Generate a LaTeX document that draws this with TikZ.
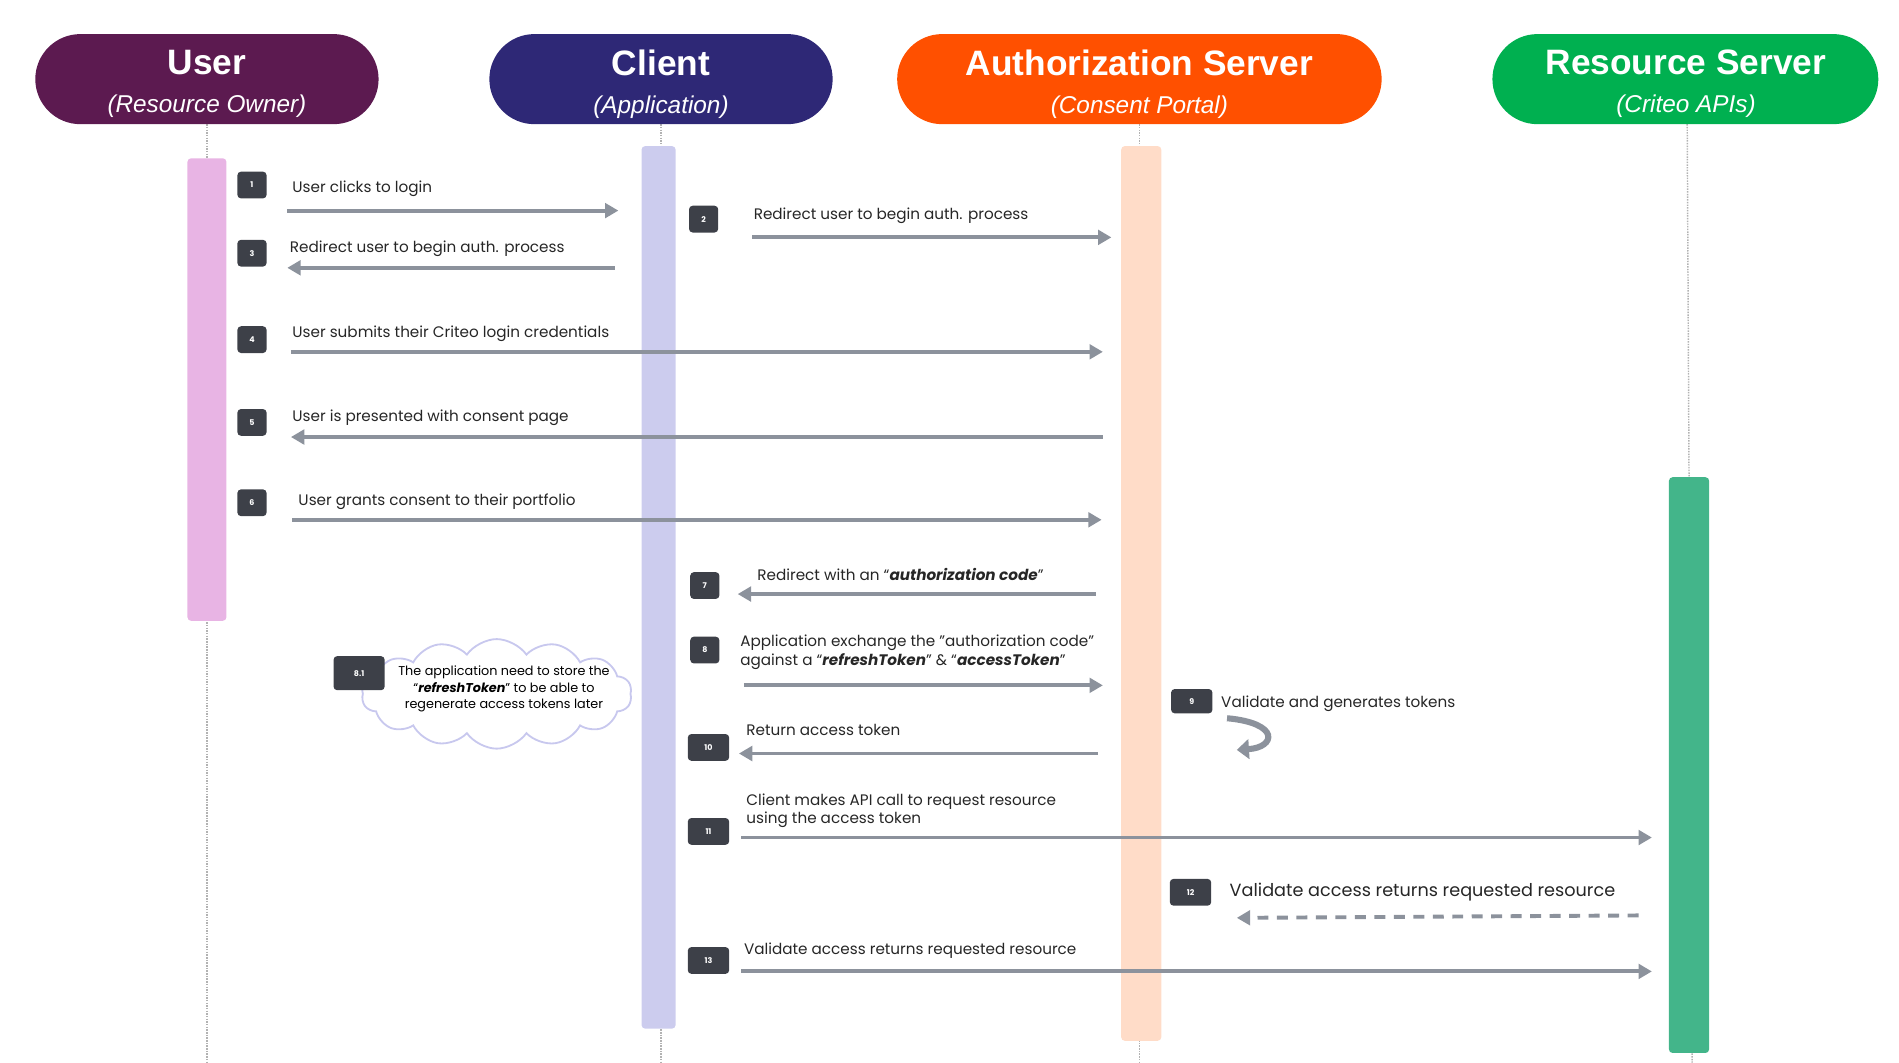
\documentclass[tikz,border=0pt]{standalone}
\usepackage{fontspec}
\setmainfont{Poppins}
\newfontfamily\hdr{Liberation Sans}
\usetikzlibrary{arrows.meta,shapes.symbols}
\definecolor{ag}{HTML}{8C929C}
\definecolor{nb}{HTML}{3D4048}
\begin{document}
\begin{tikzpicture}[x=1pt,y=-1pt,
 hd/.style={rounded corners=37pt,minimum height=74pt,inner sep=0pt,text=white,align=center,font=\hdr\fontsize{20}{31}\selectfont},
 life/.style={gray!60,densely dotted,line width=1.2pt},
 bar/.style={rounded corners=3pt},
 num/.style={fill=nb,rounded corners=3pt,minimum width=24pt,minimum height=22pt,inner sep=0pt,text=white,font=\fontsize{6.5}{7}\selectfont\bfseries},
 msg/.style={ag,line width=3.2pt,-{Triangle[length=11pt,width=12pt]}},
 lab/.style={anchor=west,inner sep=0pt,font=\fontsize{12.5}{15.5}\selectfont,text=black!85,align=left}]
\useasboundingbox (0,0) rectangle (1560,873);
% lifelines
\draw[life] (170,102) -- (170,873);
\draw[life] (543,102) -- (543,873);
\draw[life] (936,102) -- (936,873);
\draw[life] (1386,102) -- (1390,873);
% headers
\fill[rounded corners=37pt,fill={rgb,255:red,92;green,26;blue,80}] (29,28) rectangle (311,102);
\fill[rounded corners=37pt,fill={rgb,255:red,46;green,40;blue,118}] (402,28) rectangle (684,102);
\fill[rounded corners=37pt,fill={rgb,255:red,255;green,80;blue,0}] (737,28) rectangle (1135,102);
\fill[rounded corners=37pt,fill={rgb,255:red,0;green,176;blue,80}] (1226,28) rectangle (1543,102);
\node[hd] (hu) at (170,69) {{\fontsize{29}{32}\selectfont\bfseries User}\\{\itshape (Resource Owner)}};
\node[hd] (hc) at (543,69) {{\fontsize{29}{32}\selectfont\bfseries Client}\\{\itshape (Application)}};
\node[hd] (ha) at (936,69) {{\fontsize{29}{32}\selectfont\bfseries Authorization Server}\\{\itshape (Consent Portal)}};
\node[hd] (hr) at (1385,69) {{\fontsize{29}{32}\selectfont\bfseries Resource Server}\\{\itshape (Criteo APIs)}};
% activation bars
\fill[bar,fill={rgb,255:red,232;green,180;blue,228}] (154,130) rectangle (186,510);
\fill[bar,fill={rgb,255:red,204;green,204;blue,238}] (527,120) rectangle (555,845);
\fill[bar,fill={rgb,255:red,255;green,220;blue,200}] (921,120) rectangle (954,855);
\fill[bar,fill={rgb,255:red,67;green,181;blue,138}] (1371,392) rectangle (1404,865);
% coordinates
\coordinate (a1s) at (236,173); \coordinate (a1e) at (508,173);
\coordinate (a2s) at (618,195); \coordinate (a2e) at (913,195);
\coordinate (a3s) at (505,220); \coordinate (a3e) at (236,220);
\coordinate (a4s) at (239,289); \coordinate (a4e) at (906,289);
\coordinate (a5s) at (906,359); \coordinate (a5e) at (239,359);
\coordinate (a6s) at (240,427); \coordinate (a6e) at (905,427);
\coordinate (a7s) at (900,488); \coordinate (a7e) at (606,488);
\coordinate (a8s) at (611,563); \coordinate (a8e) at (906,563);
\coordinate (a10s) at (902,619); \coordinate (a10e) at (607,619);
\coordinate (a11s) at (609,688); \coordinate (a11e) at (1357,688);
\coordinate (a12s) at (1346,752); \coordinate (a12e) at (1016,754);
\coordinate (a13s) at (609,798); \coordinate (a13e) at (1357,798);
\draw[msg] (a1s) -- (a1e);
\draw[msg] (a2s) -- (a2e);
\draw[msg] (a3s) -- (a3e);
\draw[msg] (a4s) -- (a4e);
\draw[msg] (a5s) -- (a5e);
\draw[msg] (a6s) -- (a6e);
\draw[msg] (a7s) -- (a7e);
\draw[msg] (a8s) -- (a8e);
\draw[msg] (a10s) -- (a10e);
\draw[msg] (a11s) -- (a11e);
\draw[msg,dash pattern=on 9pt off 7pt] (a12s) -- (a12e);
\draw[msg] (a13s) -- (a13e);
% self arrow 9
\coordinate (s9a) at (1008,590); \coordinate (s9b) at (1016,616);
\draw[ag,line width=5pt,-{Triangle[length=10pt,width=16pt]}] (s9a) .. controls (1052,594) and (1048,614) .. (s9b);
% numbers
\node[num] (n1) at (207,152) {1};
\node[num] (n2) at (578,180) {2};
\node[num] (n3) at (207,208) {3};
\node[num] (n4) at (207,279) {4};
\node[num] (n5) at (207,347) {5};
\node[num] (n6) at (207,413) {6};
\node[num] (n7) at (579,481) {7};
\node[num] (n8) at (579,534) {8};
\node[num,minimum width=34pt,minimum height=20pt] (n9) at (979,576) {9};
\node[num,minimum width=34pt] (n10) at (582,614) {10};
\node[num,minimum width=34pt] (n11) at (582,683) {11};
\node[num,minimum width=34pt] (n12) at (978,733) {12};
\node[num,minimum width=34pt] (n13) at (582,789) {13};
% cloud
\node[cloud,cloud puffs=14,cloud puff arc=110,aspect=2.6,draw={rgb,255:red,200;green,200;blue,238},line width=1.5pt,fill=white,minimum width=222pt,minimum height=90pt,inner sep=0pt] (cl) at (408,570) {};
\node[align=center,font=\fontsize{10.5}{13.5}\selectfont,inner sep=0pt] (clt) at (414,566) {The application need to store the\\``\textbf{\textit{refreshToken}}'' to be able to\\regenerate access tokens later};
\node[num,minimum width=42pt,minimum height=28pt] (n81) at (295,553) {8.1};
% labels
\node[lab] (l1) at (240,155) {User clicks to login};
\node[lab] (l2) at (619,177) {Redirect user to begin auth. process};
\node[lab] (l3) at (238,204) {Redirect user to begin auth. process};
\node[lab] (l4) at (240,274) {User submits their Criteo login credentials};
\node[lab] (l5) at (240,343) {User is presented with consent page};
\node[lab] (l6) at (245,412) {User grants consent to their portfolio};
\node[lab] (l7) at (622,472) {Redirect with an ``\textbf{\textit{authorization code}}''};
\node[lab] (l8) at (608,536) {Application exchange the "authorization code"\\against a ``\textbf{\textit{refreshToken}}'' \& ``\textbf{\textit{accessToken}}''};
\node[lab] (l9) at (1003,578) {Validate and generates tokens};
\node[lab] (l10) at (613,600) {Return access token};
\node[lab] (l11) at (613,666) {Client makes API call to request resource\\using the access token};
\node[lab,font=\fontsize{14.5}{17}\selectfont] (l12) at (1010,733) {Validate access returns requested resource};
\node[lab] (l13) at (611,781) {Validate access returns requested resource};
\end{tikzpicture}
\end{document}
